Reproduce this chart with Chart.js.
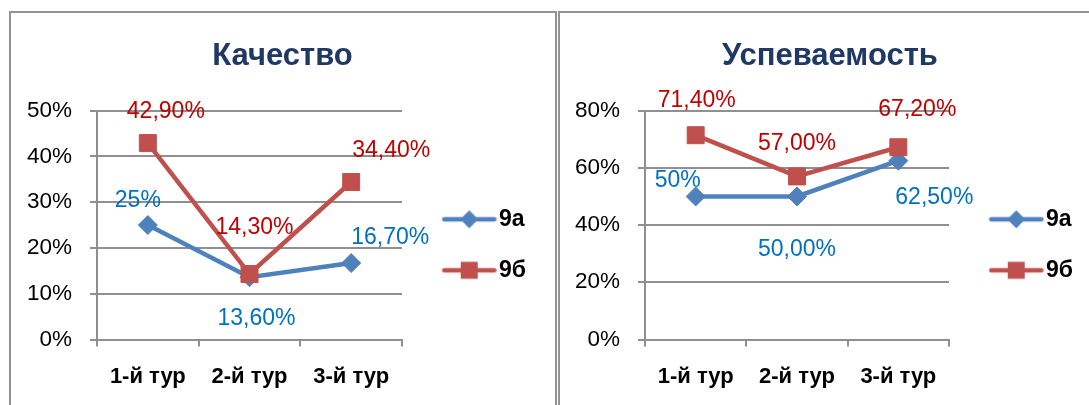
<!DOCTYPE html>
<html lang="ru">
<head>
<meta charset="utf-8">
<script src="https://cdn.jsdelivr.net/npm/chart.js@4.4.1/dist/chart.umd.min.js"></script>
<style>
  html, body { margin: 0; padding: 0; background: #fff; }
  body { width: 1089px; height: 405px; overflow: hidden; position: relative; }
  .box { position: absolute; top: 11px; height: 420px; box-sizing: border-box; border: 2px solid #939393; }
  #box-quality { left: 9px; width: 548px; }
  #box-progress { left: 558px; width: 560px; }
  .box canvas { position: absolute; left: 0; top: 0; }
</style>
</head>
<body>
<div class="box" id="box-quality"><canvas id="chart-quality" width="543" height="392"></canvas></div>
<div class="box" id="box-progress"><canvas id="chart-progress" width="540" height="392"></canvas></div>
<script>
const rounds = ["1-й тур", "2-й тур", "3-й тур"];
const classNames = ["9а", "9б"];

const quality9a = [25, 13.6, 16.7];
const quality9b = [42.9, 14.3, 34.4];
const progress9a = [50, 50, 62.5];
const progress9b = [71.4, 57, 67.2];

// the first 9а label in both charts was shown without decimals
const decimals9a = [0, 2, 2];
const decimals9b = [2, 2, 2];

const BLUE = "#4F81BD";
const RED = "#C0504D";
const BLUE_TEXT = "#0070C0";
const RED_TEXT = "#C00000";
const GRID = "#8f8f8f";
const FONT = '"Liberation Sans", Arial, sans-serif';

Chart.defaults.font.family = FONT;

const fmt = (v, d) => v.toFixed(d).replace(".", ",") + "%";

const legendIcon = (color, style) => {
  const c = document.createElement("canvas");
  c.width = 76;
  c.height = 22;
  const g = c.getContext("2d");
  g.strokeStyle = color;
  g.fillStyle = color;
  g.lineWidth = 4.5;
  g.lineCap = "round";
  g.beginPath();
  g.moveTo(23.5, 11);
  g.lineTo(73.5, 11);
  g.stroke();
  g.beginPath();
  if (style === "rectRot") {
    g.moveTo(48.5, 2);
    g.lineTo(57.5, 11);
    g.lineTo(48.5, 20);
    g.lineTo(39.5, 11);
    g.closePath();
  } else {
    g.rect(40, 2.5, 17, 17);
  }
  g.fill();
  return c;
};

const icons = [legendIcon(BLUE, "rectRot"), legendIcon(RED, "rect")];

const pointLabels = {
  id: "pointLabels",
  afterDatasetsDraw(chart, args, opts) {
    const ctx = chart.ctx;
    ctx.save();
    ctx.font = `${opts.size}px ${FONT}`;
    ctx.textAlign = "center";
    ctx.textBaseline = "alphabetic";
    chart.data.datasets.forEach((ds, i) => {
      const meta = chart.getDatasetMeta(i);
      ctx.fillStyle = opts.colors[i];
      meta.data.forEach((pt, j) => {
        const [dx, dy] = opts.offsets[i][j];
        const text = fmt(ds.data[j], opts.decimals[i][j]);
        ctx.fillText(text, pt.x + dx, pt.y + dy + opts.size * 0.36);
      });
    });
    ctx.restore();
  },
};

const buildChart = (canvasId, title, values9a, values9b, yMax, yStep, offsets, axisWidth, legendWidth) => {
  const canvas = document.querySelector(`#${canvasId}`);
  new Chart(canvas, {
    type: "line",
    data: {
      labels: rounds,
      datasets: [
        {
          label: classNames[0], data: values9a, order: 1,
          borderColor: BLUE, backgroundColor: BLUE, borderWidth: 4.5, tension: 0,
          pointStyle: "rectRot", pointRadius: 9.5, pointBorderWidth: 1,
          pointBackgroundColor: BLUE, pointBorderColor: BLUE,
        },
        {
          label: classNames[1], data: values9b, order: 0,
          borderColor: RED, backgroundColor: RED, borderWidth: 4.5, tension: 0,
          pointStyle: "rect", pointRadius: 12, pointBorderWidth: 1,
          pointBackgroundColor: RED, pointBorderColor: RED,
        },
      ],
    },
    options: {
      responsive: false,
      animation: false,
      events: [],
      layout: { padding: 0 },
      scales: {
        x: {
          offset: true,
          grid: { display: true, offset: true, drawOnChartArea: false, tickLength: 7, color: GRID, lineWidth: 2 },
          border: { color: GRID, width: 2 },
          ticks: { color: "#000", padding: 17, font: { size: 22, weight: "bold" } },
          afterFit: (s) => { s.height = 65.5; },
        },
        y: {
          min: 0, max: yMax,
          grid: { tickLength: 7, color: GRID, lineWidth: 2 },
          border: { color: GRID, width: 2 },
          ticks: { stepSize: yStep, color: "#000", padding: 18, font: { size: 22.5 }, callback: (v) => v + "%" },
          afterFit: (s) => { s.width = axisWidth; },
        },
      },
      plugins: {
        title: {
          display: true, text: title, color: "#1F3864",
          font: { size: 31, weight: "bold", lineHeight: 1.2 },
          padding: { top: 25, bottom: 35.4 },
        },
        legend: {
          position: "right",
          fullSize: false,
          maxWidth: legendWidth,
          title: { display: true, text: "", padding: { top: 38.5, bottom: 0 }, font: { size: 1, lineHeight: 1 } },
          labels: {
            usePointStyle: true,
            pointStyleWidth: 57.5,
            padding: 28,
            color: "#000",
            font: { size: 23, weight: "bold" },
            // trailing spaces only widen the measured legend so it can be clamped to legendWidth
            generateLabels: (chart) => chart.data.datasets.map((ds, i) => ({
              text: ds.label + "      ", pointStyle: icons[i], fillStyle: ds.borderColor,
              strokeStyle: ds.borderColor, lineWidth: 0, hidden: false, datasetIndex: i, fontColor: "#000",
            })),
          },
        },
        tooltip: { enabled: false },
        pointLabels: {
          size: 23,
          colors: [BLUE_TEXT, RED_TEXT],
          decimals: [decimals9a, decimals9b],
          offsets,
        },
      },
    },
    plugins: [pointLabels],
  });
};

window.addEventListener("DOMContentLoaded", () => {
  buildChart("chart-quality", "Качество", quality9a, quality9b, 50, 10,
    [[[-10, -26], [7, 39], [39, -27]], [[18, -33], [5, -48], [40, -33]]],
    86, 152);
  buildChart("chart-progress", "Успеваемость", progress9a, progress9b, 80, 20,
    [[[-18, -18], [0, 51], [36, 35]], [[1, -36], [0, -35], [19, -40]]],
    85, 151);
});
</script>
</body>
</html>
